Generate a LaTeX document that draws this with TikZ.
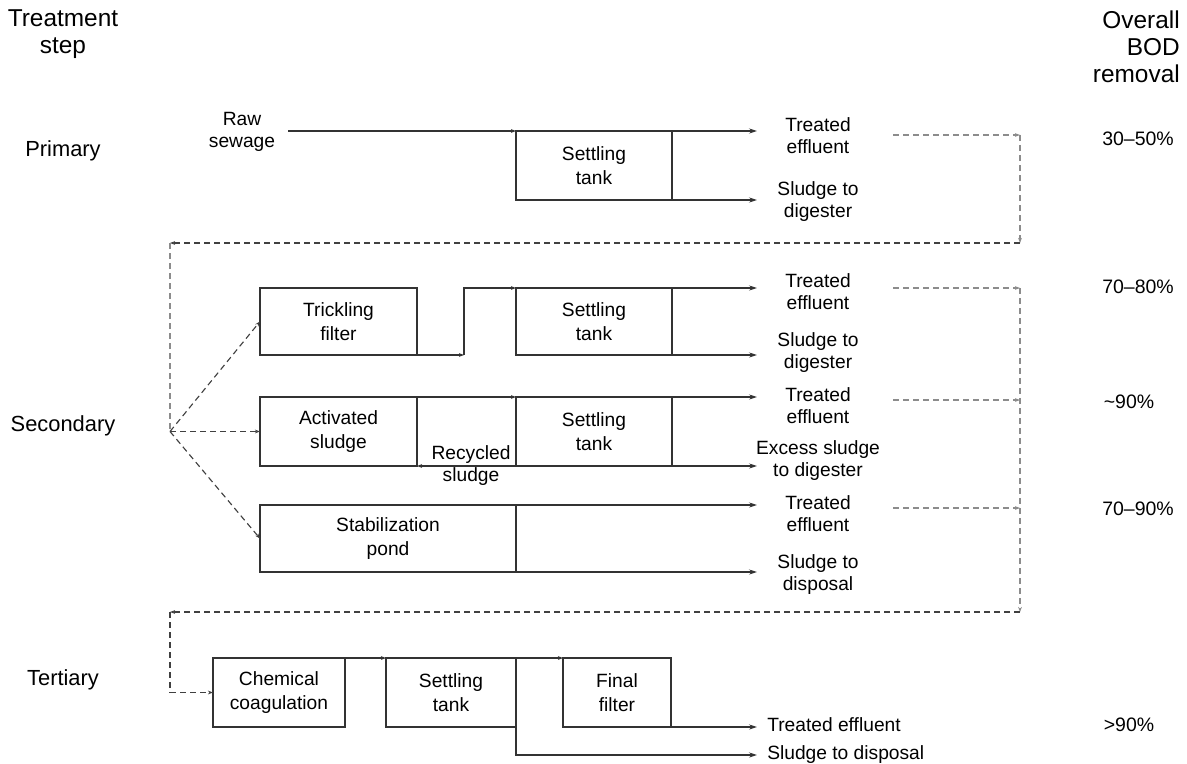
\documentclass[tikz,border=0pt]{standalone}
\usepackage{fontspec}
\setmainfont{Liberation Sans}
\usetikzlibrary{arrows.meta}
\begin{document}
\begin{tikzpicture}[x=0.75pt,y=-0.75pt,
  flow/.style={draw=black!80,line width=0.85pt},
  tip/.style={-{Stealth[length=6pt,width=3.8pt]}},
  ctip/.style={-{Stealth[length=3.8pt,width=2.8pt]}},
  dlight/.style={draw=black!45,line width=0.85pt,dash pattern=on 4.5pt off 3pt},
  ddark/.style={draw=black!75,line width=0.85pt,dash pattern=on 4.5pt off 3pt},
  unit/.style={draw=black!80,line width=0.85pt,inner sep=0pt,outer sep=0pt,
    align=center,font=\fontsize{14.4}{17.5}\selectfont},
  lbl/.style={inner sep=0pt,align=center,font=\fontsize{14.4}{16.5}\selectfont},
  stage/.style={inner sep=0pt,align=center,font=\fontsize{16.4}{20}\selectfont},
  head/.style={inner sep=0pt,font=\fontsize{18.3}{20.25}\selectfont},
  pct/.style={inner sep=0pt,font=\fontsize{14.6}{17}\selectfont}]
\useasboundingbox (0,0) rectangle (1187,763);

% column headings and stage names
\node[head,align=center] (hstep) at (63,34) {Treatment\\step};
\node[head,align=right,anchor=east] (hbod) at (1180,47) {Overall\\BOD\\removal};
\node[stage] (sprim) at (63,151) {Primary};
\node[stage] (ssec) at (63,425.5) {Secondary};
\node[stage] (ster) at (63,679.5) {Tertiary};

% removal percentages
\node[pct] (p1) at (1138,139) {30–50\%};
\node[pct] (p2) at (1138,287) {70–80\%};
\node[pct] (p3) at (1129,402) {\textasciitilde 90\%};
\node[pct] (p4) at (1138,509) {70–90\%};
\node[pct] (p5) at (1129,725) {>90\%};

% process units
\node[unit,minimum width=117pt,minimum height=51.75pt] (st1) at (594,165.5) {Settling\\tank};
\node[unit,minimum width=117.75pt,minimum height=50.25pt] (tf) at (338.5,321.5) {Trickling\\filter};
\node[unit,minimum width=117pt,minimum height=50.25pt] (st2) at (594,321.5) {Settling\\tank};
\node[unit,minimum width=117.75pt,minimum height=51.75pt] (as) at (338.5,431.5) {Activated\\sludge};
\node[unit,minimum width=117pt,minimum height=51.75pt] (st3) at (594,431.5) {Settling\\tank};
\node[unit,minimum width=192pt,minimum height=50.25pt] (sp) at (388,538.5) {Stabilization\\pond};
\node[unit,minimum width=99pt,minimum height=51.75pt] (cc) at (279,692.5) {Chemical\\coagulation};
\node[unit,minimum width=97.5pt,minimum height=51.75pt] (st4) at (451,692.5) {Settling\\tank};
\node[unit,minimum width=81pt,minimum height=51.75pt] (ff) at (617,692.5) {Final\\filter};

% stream labels
\node[lbl] (raw) at (242,132) {Raw\\sewage};
\node[lbl] (te1) at (818,136) {Treated\\effluent};
\node[lbl] (sd1) at (818,202) {Sludge to\\digester};
\node[lbl] (te2) at (818,292) {Treated\\effluent};
\node[lbl] (sd2) at (818,353) {Sludge to\\digester};
\node[lbl] (te3) at (818,406) {Treated\\effluent};
\node[lbl] (es3) at (818,461) {Excess sludge\\to digester};
\node[lbl] (rs) at (471,466) {Recycled\\sludge};
\node[lbl] (te4) at (818,514) {Treated\\effluent};
\node[lbl] (sd4) at (818,575) {Sludge to\\disposal};
\node[lbl,anchor=west] (te5) at (767,725) {Treated effluent};
\node[lbl,anchor=west] (sd5) at (767,755) {Sludge to disposal};

% stream end points
\coordinate (rawout) at (288,131);
\coordinate (e1t) at (757,131);
\coordinate (e1b) at (757,200);
\coordinate (tj) at (464,355);
\coordinate (e2t) at (757,288);
\coordinate (e2b) at (757,355);
\coordinate (e3t) at (757,397);
\coordinate (e3b) at (757,466);
\coordinate (e4t) at (757,505);
\coordinate (e4b) at (757,572);
\coordinate (e5t) at (757,727);
\coordinate (e5b) at (757,755);

% sequence links between treatment stages
\coordinate (d1) at (893,135);
\coordinate (d2) at (893,288);
\coordinate (d3) at (893,400);
\coordinate (d4) at (893,508);
\coordinate (r1) at (1020,135);
\coordinate (r2) at (1020,243);
\coordinate (r3) at (1020,288);
\coordinate (r4) at (1020,400);
\coordinate (r5) at (1020,508);
\coordinate (r6) at (1020,612);
\coordinate (l2) at (170,243);
\coordinate (fan) at (170,431.5);
\coordinate (l6) at (170,612);
\coordinate (l7) at (170,692.5);

% primary treatment
\draw[flow,ctip] (rawout) -- (st1.north west);
\draw[flow,tip] (st1.north west) -- (e1t);
\draw[flow,tip] (st1.south west) -- (e1b);

% trickling filter
\draw[flow,ctip] (tf.south east) -- (tj);
\draw[flow,ctip] (tj) |- (st2.north west);
\draw[flow,tip] (st2.north west) -- (e2t);
\draw[flow,tip] (st2.south west) -- (e2b);

% activated sludge
\draw[flow,ctip] (as.north east) -- (st3.north west);
\draw[flow,tip] (st3.north west) -- (e3t);
\draw[flow,ctip] (st3.south west) -- (as.south east);
\draw[flow,tip] (st3.south west) -- (e3b);

% stabilization pond
\draw[flow,tip] (sp.north east) -- (e4t);
\draw[flow,tip] (sp.south east) -- (e4b);

% tertiary treatment
\draw[flow,ctip] (cc.north east) -- (st4.north west);
\draw[flow,ctip] (st4.north east) -- (ff.north west);
\draw[flow,tip] (ff.south west) -- (e5t);
\draw[flow,tip] (st4.south east) |- (e5b);

% dashed hand-over lines
\draw[dlight,ctip] (d1) -- (r1);
\draw[dlight,ctip] (r1) -- (r2);
\draw[ddark,ctip] (r2) -- (l2);
\draw[dlight] (l2) -- (fan);
\draw[ddark,ctip] (fan) -- (tf.west);
\draw[ddark,ctip] (fan) -- (as.west);
\draw[ddark,ctip] (fan) -- (sp.west);

\draw[dlight,ctip] (d2) -- (r3);
\draw[dlight,ctip] (d3) -- (r4);
\draw[dlight,ctip] (d4) -- (r5);
\draw[dlight,ctip] (r3) -- (r6);
\draw[ddark,ctip] (r6) -- (l6);
\draw[ddark] (l6) -- (l7);
\draw[ddark,ctip] (l7) -- (cc.west);
\end{tikzpicture}
\end{document}
